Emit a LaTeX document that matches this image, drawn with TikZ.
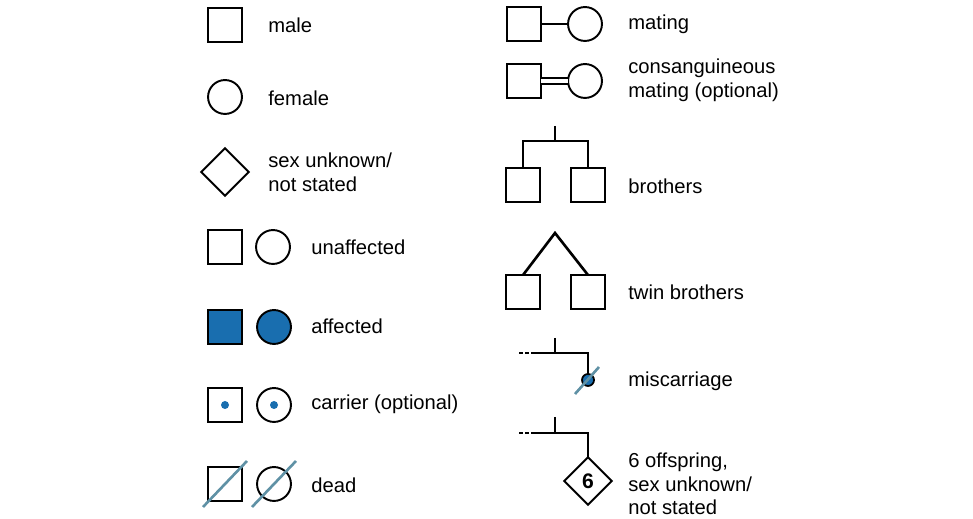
\documentclass[tikz,border=0pt]{standalone}
\usepackage{fontspec}
\setmainfont{Liberation Sans}
\usetikzlibrary{shapes.geometric,positioning}
\definecolor{affcol}{RGB}{25,110,175}
\definecolor{slashcol}{RGB}{95,145,165}
\tikzset{
  sym/.style={draw,line width=1.1pt,inner sep=0pt,outer sep=0pt},
  male/.style={sym,rectangle,minimum size=19.3pt},
  female/.style={sym,circle,minimum size=19.3pt},
  unknown/.style={sym,diamond,minimum size=27pt},
  aff/.style={fill=affcol},
  lbl/.style={anchor=west,align=left,font=\fontsize{11.5}{13.5}\selectfont,inner sep=0pt},
  line/.style={line width=1.5pt},
  slash/.style={line width=1.5pt,slashcol}
}
\begin{document}
\begin{tikzpicture}[x=0.02cm,y=-0.02cm]
  \useasboundingbox (0,0) rectangle (973,519);
  % LEFT COLUMN
  \node[male] (m) at (225,25) {};
  \node[lbl] at (268,25) {male};
  \node[female] (f) at (225,97) {};
  \node[lbl] at (268,98) {female};
  \node[unknown] (u) at (225,172) {};
  \node[lbl] at (268,172) {sex unknown/\\not stated};
  \node[male] (um) at (225,247) {};
  \node[female] (uf) at (273,247) {};
  \node[lbl] at (311,247) {unaffected};
  \node[male,aff] (am) at (225,327) {};
  \node[female,aff] (af) at (274,327) {};
  \node[lbl] at (311,326) {affected};
  \node[male] (cm) at (225,405) {};
  \node[female] (cf) at (274,405) {};
  \fill[affcol] (cm) circle (4);
  \fill[affcol] (cf) circle (4);
  \node[lbl] at (311,404) {carrier (optional)};
  \node[male] (dm) at (225,484) {};
  \node[female] (df) at (274,484) {};
  \draw[slash] (203,507) -- (247,461);
  \draw[slash] (252,507) -- (296,461);
  \node[lbl] at (311,485) {dead};
  % RIGHT COLUMN
  \node[male] (mm) at (524,24) {};
  \node[female] (mf) at (585,24) {};
  \draw[line] (mm) -- (mf);
  \node[lbl] at (628,24) {mating};
  \node[male] (cgm) at (524,81) {};
  \node[female] (cgf) at (585,81) {};
  \draw[line,double,double distance=2pt,line width=1.1pt] (cgm) -- (cgf);
  \node[lbl] at (628,80) {consanguineous\\mating (optional)};
  \node[male] (b1) at (523,185) {};
  \node[male] (b2) at (588,185) {};
  \draw[line] (555,126) -- (555,141);
  \draw[line] (b1.north) |- (555,141) -| (b2.north);
  \node[lbl] at (628,186) {brothers};
  \node[male] (t1) at (523,292) {};
  \node[male] (t2) at (588,292) {};
  \draw[line] (t1.north) -- (555,233) -- (t2.north);
  \node[lbl] at (628,292) {twin brothers};
  \coordinate (ms) at (588,380);
  \draw[line] (555,338) -- (555,353);
  \draw[line] (531,353) -| (ms);
  \draw[line,dash pattern=on 2pt off 1.5pt] (519,353) -- (529,353);
  \fill[affcol,draw=black,line width=1pt] (ms) circle (6);
  \draw[slash] (575,394) -- (599,367);
  \node[lbl] at (628,381) {miscarriage};
  \node[unknown] (off) at (588,481) {\bfseries\large 6};
  \draw[line] (555,417) -- (555,433);
  \draw[line] (531,433) -| (off.north);
  \draw[line,dash pattern=on 2pt off 1.5pt] (519,433) -- (529,433);
  \node[lbl] at (628,484) {6 offspring,\\sex unknown/\\not stated};
\end{tikzpicture}
\end{document}
